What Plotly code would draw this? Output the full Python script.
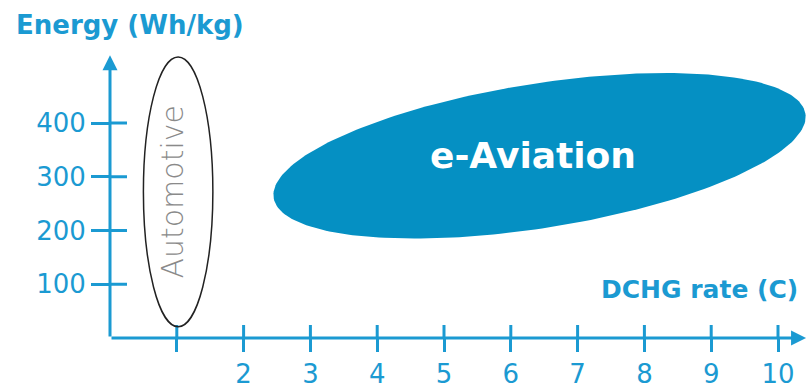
import numpy as np
import plotly.graph_objects as go

# ---- data ----
X_TICKS = [1, 2, 3, 4, 5, 6, 7, 8, 9, 10]
X_LABELS = ["", "2", "3", "4", "5", "6", "7", "8", "9", "10"]
Y_TICKS = [100, 200, 300, 400]
Y_LABELS = ["100", "200", "300", "400"]
X_AXIS_END = 10.42
Y_AXIS_END = 526

# Automotive region (C-rate range, energy range)
AUTO_X = [0.5, 1.54]
AUTO_Y = [21, 523]
# e-Aviation region: centre (C, Wh/kg), half-extents, tilt
AVI_CENTER = [6.43, 339]
AVI_SEMI_MAJOR_C = 4.03
AVI_SEMI_MINOR_C = 1.08
AVI_TILT_DEG = 9.0

BLUE = "#1b9ad2"
FILL = "#0590c3"
FONT_B = "DejaVu Sans"
FONT_T = "DejaVu Sans"

W, H = 809, 391
ML, MB = 110, 53
X_RANGE = [0, (W - ML) / 66.8]
Y_RANGE = [0, (H - MB) / 0.5375]
PX_X = (W - ML) / (X_RANGE[1] - X_RANGE[0])
PX_Y = (H - MB) / (Y_RANGE[1] - Y_RANGE[0])

fig = go.Figure()

# e-Aviation ellipse (built in pixel space, mapped back to data)
t = np.linspace(0, 2 * np.pi, 240)
a = AVI_SEMI_MAJOR_C * PX_X
b = AVI_SEMI_MINOR_C * PX_X
th = np.deg2rad(AVI_TILT_DEG)
px = a * np.cos(t) * np.cos(th) - b * np.sin(t) * np.sin(th)
py = a * np.cos(t) * np.sin(th) + b * np.sin(t) * np.cos(th)
fig.add_trace(go.Scatter(
    x=AVI_CENTER[0] + px / PX_X, y=AVI_CENTER[1] + py / PX_Y,
    mode="lines", fill="toself", fillcolor=FILL, line=dict(width=0, color=FILL),
    hoverinfo="skip", showlegend=False))

# inner halves of tick marks
tx, ty = [], []
for v in X_TICKS:
    tx += [v, v, None]
    ty += [0, 13 / PX_Y, None]
for v in Y_TICKS:
    tx += [0, 17 / PX_X, None]
    ty += [v, v, None]
fig.add_trace(go.Scatter(x=tx, y=ty, mode="lines", line=dict(color=BLUE, width=3),
                         hoverinfo="skip", showlegend=False))

# Automotive ellipse
fig.add_shape(type="circle", xref="x", yref="y",
              x0=AUTO_X[0], x1=AUTO_X[1], y0=AUTO_Y[0], y1=AUTO_Y[1],
              line=dict(color="#222222", width=1.5))

ann = []
# axes with arrows
ann.append(dict(x=X_AXIS_END, y=0, ax=0, ay=0, xref="x", yref="y", axref="x", ayref="y",
                text="", showarrow=True, arrowhead=2, arrowsize=1, arrowwidth=3,
                arrowcolor=BLUE, standoff=0, startstandoff=0))
ann.append(dict(x=0, y=Y_AXIS_END, ax=0, ay=0, xref="x", yref="y", axref="x", ayref="y",
                text="", showarrow=True, arrowhead=2, arrowsize=1, arrowwidth=3,
                arrowcolor=BLUE, standoff=0, startstandoff=0))
ann.append(dict(x=0.94, y=272, xref="x", yref="y", text="Automotive", textangle=-90,
                showarrow=False, font=dict(family=FONT_T, size=30, color="#8a8a8a", weight=200)))
ann.append(dict(x=6.33, y=340, xref="x", yref="y", text="<b>e-Aviation</b>",
                showarrow=False, font=dict(family=FONT_B, size=36, color="white")))
ann.append(dict(x=8.83, y=91, xref="x", yref="y", text="<b>DCHG rate (C)</b>",
                showarrow=False, font=dict(family=FONT_B, size=25, color=BLUE)))
ann.append(dict(x=0.30, y=582, xref="x", yref="y", text="<b>Energy (Wh/kg)</b>",
                showarrow=False, font=dict(family=FONT_B, size=26, color=BLUE)))

tickfont = dict(family=FONT_T, size=26, color=BLUE)
fig.update_layout(
    width=W, height=H, margin=dict(l=ML, r=0, t=0, b=MB),
    paper_bgcolor="white", plot_bgcolor="white", annotations=ann,
    xaxis=dict(range=X_RANGE, tickvals=X_TICKS, ticktext=X_LABELS, ticks="outside",
               ticklen=13, tickwidth=3, tickcolor=BLUE, showgrid=False, zeroline=False,
               showline=False, tickfont=tickfont),
    yaxis=dict(range=Y_RANGE, tickvals=Y_TICKS, ticktext=Y_LABELS, ticks="outside",
               ticklen=18, tickwidth=3, tickcolor=BLUE, showgrid=False, zeroline=False,
               showline=False, tickfont=tickfont),
)

fig.write_html("out.html")
